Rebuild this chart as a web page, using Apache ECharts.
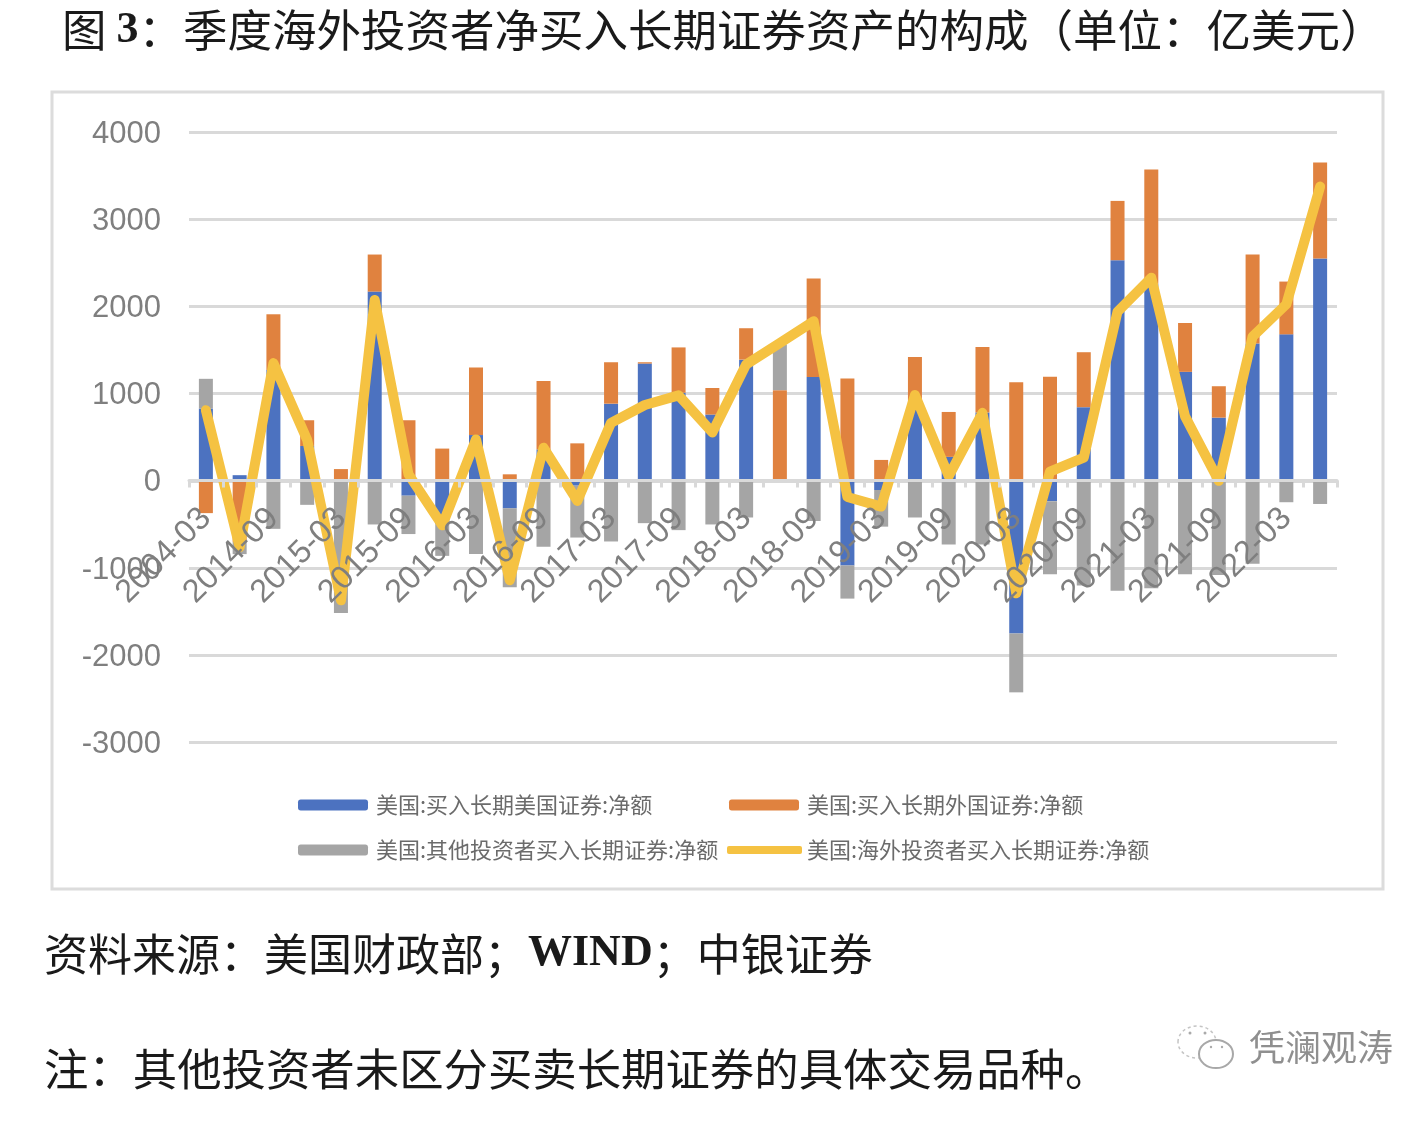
<!DOCTYPE html>
<html>
<head>
<meta charset="utf-8">
<style>html,body{margin:0;padding:0;background:#fff}#c{width:1426px;height:1122px}</style>
<script src="https://cdn.jsdelivr.net/npm/echarts@6/dist/echarts.min.js"></script>
</head>
<body>
<div id="c"></div>
<script>
const categories = ['2004-03','2014-06','2014-09','2014-12','2015-03','2015-06','2015-09','2015-12','2016-03','2016-06','2016-09','2016-12','2017-03','2017-06','2017-09','2017-12','2018-03','2018-06','2018-09','2018-12','2019-03','2019-06','2019-09','2019-12','2020-03','2020-06','2020-09','2020-12','2021-03','2021-06','2021-09','2021-12','2022-03','2022-06'];
const usSecurities = [830,65,1270,400,0,2170,-170,-500,525,-315,360,-55,885,1345,1010,760,1390,0,1190,-970,-105,840,275,785,-1750,-233,845,2530,2260,1250,725,1575,1680,2550];
const foreignSecurities = [-370,-700,640,295,135,425,695,370,775,75,785,430,475,15,520,305,360,1040,1130,1175,240,580,515,750,1130,1195,630,680,1310,560,360,1020,605,1100];
const otherInvestors = [340,-140,-550,-275,-1515,-500,-440,-360,-840,-905,-755,-595,-695,-485,-565,-500,-420,525,-460,-380,-420,-420,-730,-730,-675,-837,-1200,-1260,-1230,-1070,-1080,-950,-245,-265];
const totalNet = [810,-760,1350,470,-1370,2075,75,-510,475,-1140,380,-230,665,870,980,555,1335,1580,1830,-185,-295,985,55,780,-1290,105,265,1940,2330,740,0,1655,2025,3375];
const seriesNames = ['美国:买入长期美国证券:净额','美国:买入长期外国证券:净额','美国:其他投资者买入长期证券:净额','美国:海外投资者买入长期证券:净额'];
const titleText = '图 {b|3}：季度海外投资者净买入长期证券资产的构成（单位：亿美元）';
const sourceText = '资料来源：美国财政部；{b|WIND}；中银证券';
const noteText = '注：其他投资者未区分买卖长期证券的具体交易品种。';
const watermark = '凭澜观涛';

const CJK = '"Noto Sans CJK SC","Noto Sans",sans-serif';
const bold = {b:{fontFamily:'"Liberation Serif",serif',fontWeight:'bold',fontSize:44,color:'#1a1a1a'}};
const BLUE='#4C72C0', ORANGE='#E0823F', GRAY='#A5A5A5', YELLOW='#F5C242';

function legendAt(name,left,top,w,h,extra){
  return Object.assign({data:[{name:name}],left:left,top:top,itemWidth:w,itemHeight:h,selectedMode:false,
    padding:0,textStyle:{fontFamily:CJK,fontSize:22,color:'#6b6b6b',padding:[0,0,0,3]}},extra||{});
}
function bar(name,data,color){
  return {name:name,type:'bar',stack:'a',data:data,barWidth:14,itemStyle:{color:color},z:2};
}
const chart = echarts.init(document.getElementById('c'),null,{width:1426,height:1122});
chart.setOption({
  animation:false,
  backgroundColor:'#fff',
  title:[
    {text:titleText,left:62,top:8,padding:0,textStyle:{fontFamily:CJK,fontSize:44.5,fontWeight:'normal',color:'#1a1a1a',rich:bold}},
    {text:sourceText,left:44,top:932,padding:0,textStyle:{fontFamily:CJK,fontSize:44,fontWeight:'normal',color:'#1a1a1a',rich:bold}},
    {text:noteText,left:44,top:1047,padding:0,textStyle:{fontFamily:CJK,fontSize:44.4,fontWeight:'normal',color:'#1a1a1a'}},
    {text:watermark,left:1249,top:1029,padding:0,textStyle:{fontFamily:CJK,fontSize:36,fontWeight:'normal',color:'#8f8f8f'}}
  ],
  legend:[
    legendAt(seriesNames[0],298,794,70,11),
    legendAt(seriesNames[1],729,794,70,11),
    legendAt(seriesNames[2],298,839,70,11),
    legendAt(seriesNames[3],727,839,75,8,{data:[{name:seriesNames[3],icon:'roundRect'}],
      textStyle:{fontFamily:CJK,fontSize:22,color:'#6b6b6b'}})
  ],
  grid:{left:189,top:132,width:1148,height:610.5,containLabel:false},
  xAxis:{
    type:'category',data:categories,z:5,position:'bottom',offset:-262,
    axisLine:{onZero:false,lineStyle:{color:'#d9d9d9',width:3}},
    axisTick:{show:true,interval:0,length:7,lineStyle:{color:'#d9d9d9',width:3}},
    axisLabel:{interval:1,rotate:45,margin:33,fontFamily:'"Liberation Sans",sans-serif',fontSize:32.5,color:'#7f7f7f'},
    splitLine:{show:false}
  },
  yAxis:{
    type:'value',min:-3000,max:4000,interval:1000,
    axisLine:{show:false},axisTick:{show:false},
    axisLabel:{margin:28,formatter:function(v){return '{a|'+v+'}';},
      rich:{a:{padding:[4,0,0,0],fontFamily:'"Liberation Sans",sans-serif',fontSize:31,color:'#7f7f7f'}},
      fontFamily:'"Liberation Sans",sans-serif',fontSize:31,color:'#7f7f7f'},
    splitLine:{lineStyle:{color:'#d9d9d9',width:3}}
  },
  series:[
    bar(seriesNames[0],usSecurities,BLUE),
    bar(seriesNames[1],foreignSecurities,ORANGE),
    bar(seriesNames[2],otherInvestors,GRAY),
    {name:seriesNames[3],type:'line',data:totalNet,symbol:'none',z:3,
     itemStyle:{color:YELLOW},lineStyle:{color:YELLOW,width:10,cap:'round',join:'round'}}
  ],
  graphic:[
    {type:'rect',shape:{x:52,y:92,width:1331,height:797},style:{fill:'none',stroke:'#dcdcdc',lineWidth:3},silent:true},
    {type:'ellipse',shape:{cx:1197,cy:1042,rx:19,ry:16},style:{fill:'#fff',stroke:'#c4c4c4',lineWidth:1.5,lineDash:[3,3]},silent:true},
    {type:'ellipse',shape:{cx:1216,cy:1054,rx:17,ry:14},style:{fill:'#fff',stroke:'#a8a8a8',lineWidth:2},silent:true},
    {type:'circle',shape:{cx:1190,cy:1033,r:1.5},style:{fill:'#aaa'},silent:true},
    {type:'circle',shape:{cx:1205,cy:1033,r:1.5},style:{fill:'#aaa'},silent:true},
    {type:'circle',shape:{cx:1211,cy:1047,r:1.2},style:{fill:'#aaa'},silent:true},
    {type:'circle',shape:{cx:1222,cy:1047,r:1.2},style:{fill:'#aaa'},silent:true}
  ]
});
</script>
</body>
</html>
